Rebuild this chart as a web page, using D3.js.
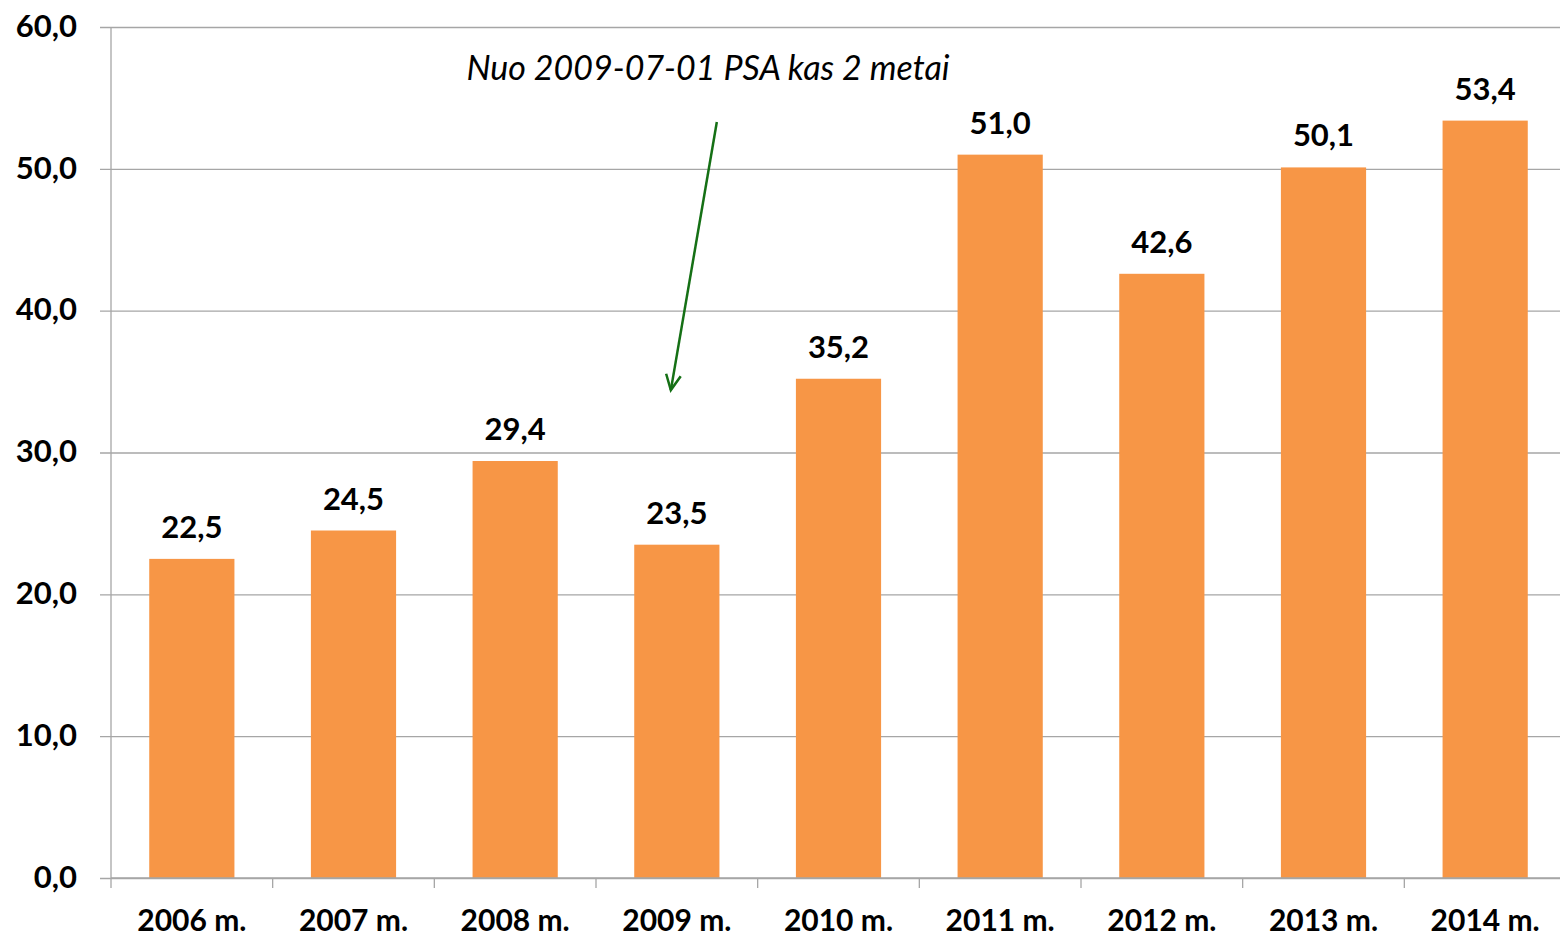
<!DOCTYPE html>
<html>
<head>
<meta charset="utf-8">
<script src="https://cdn.jsdelivr.net/npm/d3@7"></script>
<style>
  body { margin: 0; background: #fff; }
  svg text { font-family: Lato, "Open Sans", sans-serif; }
</style>
</head>
<body>
<div id="chart"></div>
<script>
// data
var years = ["2006 m.", "2007 m.", "2008 m.", "2009 m.", "2010 m.", "2011 m.", "2012 m.", "2013 m.", "2014 m."];
var values = [22.5, 24.5, 29.4, 23.5, 35.2, 51.0, 42.6, 50.1, 53.4];
var yTicks = [0, 10, 20, 30, 40, 50, 60];
var note = "Nuo 2009-07-01 PSA kas 2 metai";

var W = 1560, H = 939;
var margin = {top: 27, left: 111, bottom: 61};
var plotW = 1455; // runs a bit past the right edge, like the original

var svg = d3.select("#chart").append("svg")
    .attr("width", W)
    .attr("height", H);

var x = d3.scaleBand()
    .domain(years)
    .range([margin.left, margin.left + plotW])
    .paddingInner(0.473)
    .paddingOuter(0.2365);

var y = d3.scaleLinear()
    .domain([0, 60])
    .range([H - margin.bottom, margin.top]);

var fmt = function(d) { return d3.format(".1f")(d).replace(".", ","); };

// grid lines + y labels
var yAxis = svg.append("g")
    .attr("transform", "translate(" + margin.left + ",0)")
    .call(d3.axisLeft(y).tickValues(yTicks).tickSize(-plotW).tickPadding(34).tickFormat(fmt));
yAxis.select(".domain").remove();
yAxis.selectAll(".tick line")
    .attr("x1", -11)
    .attr("stroke", "#a6a6a6")
    .attr("stroke-width", 1.3);
yAxis.selectAll(".tick text")
    .attr("font-size", 31)
    .attr("font-weight", "bold")
    .attr("fill", "#000")
    .attr("dy", "0.3em");

// vertical axis line
svg.append("line")
    .attr("x1", margin.left).attr("x2", margin.left)
    .attr("y1", y(60)).attr("y2", y(0))
    .attr("stroke", "#a6a6a6")
    .attr("stroke-width", 1.3);

// bars
svg.selectAll("rect.bar")
    .data(values)
    .enter()
    .append("rect")
    .attr("class", "bar")
    .attr("x", function(d, i) { return x(years[i]); })
    .attr("y", function(d) { return y(d); })
    .attr("width", x.bandwidth())
    .attr("height", function(d) { return y(0) - y(d); })
    .attr("fill", "#f79646");

// value labels
svg.selectAll("text.val")
    .data(values)
    .enter()
    .append("text")
    .attr("class", "val")
    .attr("x", function(d, i) { return x(years[i]) + x.bandwidth() / 2; })
    .attr("y", function(d) { return y(d) - 21; })
    .attr("text-anchor", "middle")
    .attr("font-size", 31)
    .attr("font-weight", "bold")
    .text(fmt);

// x axis with ticks between categories
var step = x.step();
var xAxis = svg.append("g");
xAxis.append("line")
    .attr("x1", margin.left).attr("x2", margin.left + plotW)
    .attr("y1", y(0)).attr("y2", y(0))
    .attr("stroke", "#a6a6a6")
    .attr("stroke-width", 1.3);
xAxis.selectAll("line.tk")
    .data(d3.range(years.length + 1))
    .enter()
    .append("line")
    .attr("class", "tk")
    .attr("x1", function(i) { return margin.left + i * step; })
    .attr("x2", function(i) { return margin.left + i * step; })
    .attr("y1", y(0))
    .attr("y2", y(0) + 10)
    .attr("stroke", "#a6a6a6")
    .attr("stroke-width", 1.3);
xAxis.selectAll("text")
    .data(years)
    .enter()
    .append("text")
    .attr("x", function(d) { return x(d) + x.bandwidth() / 2; })
    .attr("y", 931)
    .attr("text-anchor", "middle")
    .attr("font-size", 30)
    .attr("font-weight", "bold")
    .text(function(d) { return d; });

// annotation
svg.append("text")
    .attr("x", 708)
    .attr("y", 80)
    .attr("text-anchor", "middle")
    .attr("font-size", 34)
    .attr("font-style", "italic")
    .text(note);

var ax = x("2009 m.") + x.bandwidth() / 2 - 6;
var p0 = [ax + 46, y(53.3)], p1 = [ax, y(34.4)];
svg.append("line")
    .attr("x1", p0[0]).attr("y1", p0[1])
    .attr("x2", p1[0]).attr("y2", p1[1])
    .attr("stroke", "#157015")
    .attr("stroke-width", 2.5);
var ang = Math.atan2(p1[1] - p0[1], p1[0] - p0[0]);
var hl = 17, spread = 0.45;
svg.append("path")
    .attr("d", "M" + (p1[0] - hl * Math.cos(ang - spread)) + "," + (p1[1] - hl * Math.sin(ang - spread)) +
               "L" + p1[0] + "," + p1[1] +
               "L" + (p1[0] - hl * Math.cos(ang + spread)) + "," + (p1[1] - hl * Math.sin(ang + spread)))
    .attr("fill", "none")
    .attr("stroke", "#157015")
    .attr("stroke-width", 2.5);
</script>
</body>
</html>
